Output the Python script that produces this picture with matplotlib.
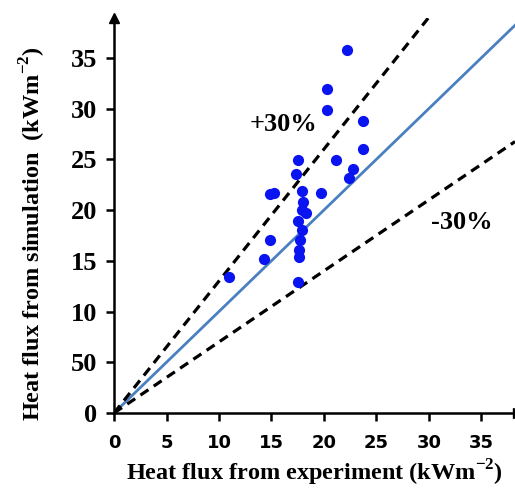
import matplotlib
matplotlib.use('Agg')
import matplotlib.pyplot as plt
import numpy as np

# ==================== 数据 ====================

exp_flux = [22.2, 20.3, 20.3, 23.7, 23.7, 17.5, 21.1, 22.8, 22.4, 17.3,
            14.9, 15.2, 19.7, 17.9, 18.0, 17.9, 18.3, 17.5, 17.9, 17.7,
            14.9, 17.6, 17.6, 14.3, 11.0, 17.5]
sim_flux = [35.8, 31.9, 29.9, 28.8, 26.0, 24.9, 24.9, 24.0, 23.2, 23.5,
            21.6, 21.7, 21.7, 21.9, 20.8, 20.0, 19.7, 18.9, 18.0, 17.0,
            17.0, 16.1, 15.4, 15.2, 13.4, 12.9]

x_ticks = [0, 5, 10, 15, 20, 25, 30, 35]
y_ticks = [0, 5, 10, 15, 20, 25, 30, 35]
y_tick_labels = ['0', '50', '10', '15', '20', '25', '30', '35']

XMAX, YMAX = 38.2, 38.9

# mathtext 上标用粗体衬线
plt.rcParams['mathtext.fontset'] = 'custom'
plt.rcParams['mathtext.bf'] = 'Liberation Serif:bold'
plt.rcParams['mathtext.rm'] = 'Liberation Serif:bold'

# ==================== 绘图 ====================

fig = plt.figure(figsize=(5.15, 4.88), dpi=100)
ax = fig.add_axes([0.2214, 0.1537, 0.7786, 0.809])

xx = np.array([0, XMAX])
ax.plot(xx, xx, color='#4a80c0', lw=2, zorder=2)
ax.plot([0, YMAX / 1.3], [0, YMAX], 'k--', lw=2.3, dashes=(3, 2), zorder=2)
ax.plot(xx, 0.7 * xx, 'k--', lw=2.3, dashes=(3, 2), zorder=2)

ax.scatter(exp_flux, sim_flux, s=65, color='#0a14f0', zorder=3, linewidths=0)

ax.text(16.1, 28.4, '+30%', family='Liberation Serif', weight='bold',
        fontsize=19, ha='center', va='center')
ax.text(33.1, 18.8, '-30%', family='Liberation Serif', weight='bold',
        fontsize=19, ha='center', va='center')

ax.set_xlim(0, XMAX)
ax.set_ylim(0, YMAX)
for s in ['top', 'right']:
    ax.spines[s].set_visible(False)
for s in ['left', 'bottom']:
    ax.spines[s].set_linewidth(1.8)

# 坐标轴箭头
ax.plot(0, YMAX, '^k', ms=7, clip_on=False)
ax.plot(XMAX + 0.3, 0, '>k', ms=7, clip_on=False)

ax.set_xticks(x_ticks)
ax.set_xticklabels([str(t) for t in x_ticks], family='DejaVu Sans',
                   weight='bold', fontsize=13)
ax.set_yticks(y_ticks)
ax.set_yticklabels(y_tick_labels, family='Liberation Serif',
                   weight='bold', fontsize=19)
ax.tick_params(axis='both', direction='out', length=6, width=1.8)
ax.tick_params(axis='x', pad=9)
ax.tick_params(axis='y', pad=6)

ax.set_xlabel('Heat flux from experiment (kWm$^{\\mathbf{-2}}$)',
              family='Liberation Serif', weight='bold', fontsize=17.5, labelpad=4)
ax.set_ylabel('Heat flux from simulation  (kWm$^{\\mathbf{-2}}$)',
              family='Liberation Serif', weight='bold', fontsize=17.5)
ax.yaxis.set_label_coords(-0.165, 0.455)

fig.savefig('out.png', dpi=100)
